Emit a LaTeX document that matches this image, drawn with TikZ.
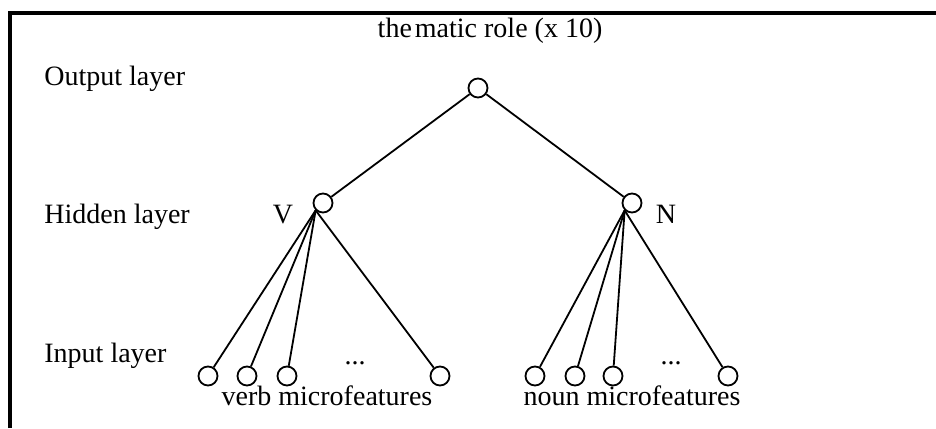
\documentclass[tikz,border=0pt]{standalone}
\usepackage{fontspec}
\setmainfont{Liberation Serif}

\begin{document}
\begin{tikzpicture}[x=0.5pt,y=0.5pt,yscale=-1,xscale=1,
  unit/.style={circle,draw,line width=0.9pt,minimum size=9.5pt,inner sep=0pt},
  link/.style={line width=0.9pt},
  lbl/.style={inner sep=0pt,font=\fontsize{14}{16}\selectfont}]
\useasboundingbox (0,0) rectangle (936,428);

%Frame
\draw [line width=1.8pt] (10,428) -- (10,13) -- (936,13) ;

%Shape: Circle (output, hidden and input units)
\node [unit] (out) at (478,88) {};
\node [unit] (hv) at (323,203) {};
\node [unit] (hn) at (632,203) {};
\foreach \x [count=\i] in {208,247,287,440}
  \node [unit] (v\i) at (\x,376) {};
\foreach \x [count=\i] in {535,575,613,728}
  \node [unit] (n\i) at (\x,376) {};

%Straight Lines
\draw [link] (out) -- (hv) ;
\draw [link] (out) -- (hn) ;
\foreach \i in {1,...,4} {
  \draw [link] (hv.south west) -- (v\i) ;
  \draw [link] (hn.south west) -- (n\i) ;
}

% Text Node
\node [lbl,anchor=base] (title) at (490,37) {the\kern1.5pt matic role (x 10)};
% Text Node
\node [lbl,anchor=base west] (outlayer) at (44,85) {Output layer};
% Text Node
\node [lbl,anchor=base west] (hidlayer) at (44,223) {Hidden layer};
% Text Node
\node [lbl,anchor=base west] (inlayer) at (44,362) {Input layer};
% Text Node
\node [lbl,anchor=base] (vlab) at (283,223) {V};
% Text Node
\node [lbl,anchor=base] (nlab) at (666,223) {N};
% Text Node
\node [lbl,anchor=base] (vdots) at (355,364) {...};
% Text Node
\node [lbl,anchor=base] (ndots) at (671,364) {...};
% Text Node
\node [lbl,anchor=base] (vfeat) at (327,405) {verb microfeatures};
% Text Node
\node [lbl,anchor=base] (nfeat) at (632,405) {noun microfeatures};

\end{tikzpicture}
\end{document}
